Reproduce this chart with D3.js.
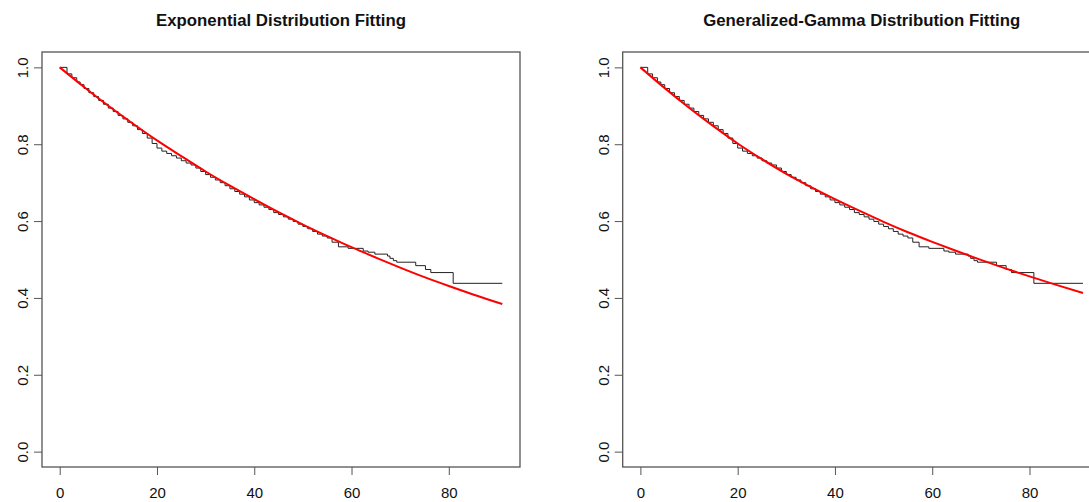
<!DOCTYPE html>
<html>
<head>
<meta charset="utf-8">
<script src="https://cdn.jsdelivr.net/npm/d3@7"></script>
<style>
  body { margin: 0; background: #fff; }
  svg { display: block; font-family: "Liberation Sans", Arial, sans-serif; }
</style>
</head>
<body>
<div id="chart"></div>
<script>
// Kaplan-Meier estimate (same in both panels)
const kmTime = [0, 1.5, 2.5, 3.5, 4.2, 5, 6, 7, 8, 9, 10, 11, 12, 13, 14, 15, 16, 17, 18, 19, 20,
  21, 22, 23, 24, 25, 26, 27, 28, 29, 30, 31, 32, 33, 34, 35, 36, 37, 38, 39, 40, 41, 42, 43, 44,
  45, 46, 47, 48, 49, 50, 51, 52, 53, 54, 55, 56, 57.3, 59.3, 62.4, 63.4, 64.8, 67.4, 67.9, 68.6, 69.3,
  73.2, 75.2, 76.3, 80.9, 91];
const kmSurv = [1.0, 0.983, 0.973, 0.962, 0.955, 0.945, 0.934, 0.924, 0.914, 0.904, 0.894, 0.885,
  0.875, 0.866, 0.857, 0.848, 0.838, 0.828, 0.816, 0.802, 0.790, 0.782, 0.776, 0.770, 0.764, 0.757,
  0.751, 0.746, 0.738, 0.729, 0.721, 0.714, 0.707, 0.700, 0.692, 0.684, 0.677, 0.670, 0.663, 0.655,
  0.648, 0.642, 0.636, 0.630, 0.622, 0.617, 0.611, 0.605, 0.599, 0.592, 0.586, 0.580, 0.573, 0.566,
  0.561, 0.556, 0.545, 0.533, 0.529, 0.522, 0.519, 0.514, 0.509, 0.503, 0.497, 0.493, 0.484, 0.474,
  0.466, 0.438, 0.438];

// fitted curves, read at regular times
const fitTime = [0, 5, 10, 15, 20, 25, 30, 35, 40, 45, 50, 55, 60, 65, 70, 75, 80, 85, 91];
const expSurv = [1.000, 0.949, 0.900, 0.854, 0.810, 0.769, 0.729, 0.692, 0.657, 0.623, 0.591,
  0.561, 0.532, 0.505, 0.479, 0.454, 0.431, 0.409, 0.384];
const ggSurv = [1.000, 0.946, 0.895, 0.847, 0.802, 0.761, 0.723, 0.689, 0.657, 0.627, 0.598,
  0.571, 0.546, 0.522, 0.499, 0.477, 0.456, 0.436, 0.413];

const titles = ["Exponential Distribution Fitting", "Generalized-Gamma Distribution Fitting"];
const xTicks = [0, 20, 40, 60, 80];
const yTicks = [0, 0.2, 0.4, 0.6, 0.8, 1.0];

const W = 1089, H = 502;
const svg = d3.select("#chart").append("svg").attr("width", W).attr("height", H);

const boxW = 478, boxTop = 52, boxBottom = 467;
const panelLeft = [42, 622.7];
const fits = [expSurv, ggSurv];

const pad = 0.04 / 1.08;

panelLeft.forEach(function (left, p) {
  const right = left + boxW;
  const x = d3.scaleLinear()
    .domain([0, 91])
    .range([left + boxW * pad, right - boxW * pad]);
  const y = d3.scaleLinear()
    .domain([0, 1])
    .range([boxBottom - (boxBottom - boxTop) * pad, boxTop + (boxBottom - boxTop) * pad]);

  const g = svg.append("g");

  // box
  g.append("rect")
    .attr("x", left).attr("y", boxTop)
    .attr("width", boxW).attr("height", boxBottom - boxTop)
    .attr("fill", "none").attr("stroke", "#555").attr("stroke-width", 1.3);

  // x axis
  const xa = g.append("g").attr("transform", "translate(0," + boxBottom + ")")
    .call(d3.axisBottom(x).tickValues(xTicks).tickSize(8).tickPadding(12).tickFormat(d3.format("d")));
  xa.select(".domain").remove();
  xa.selectAll("line").attr("stroke", "#555");
  xa.selectAll("text").attr("font-size", 15).attr("fill", "#111")
    .attr("font-family", "Liberation Sans, Arial, sans-serif");

  // y axis, rotated labels like base R
  const ya = g.append("g").attr("transform", "translate(" + left + ",0)")
    .call(d3.axisLeft(y).tickValues(yTicks).tickSize(8).tickFormat(d3.format(".1f")));
  ya.select(".domain").remove();
  ya.selectAll("line").attr("stroke", "#555");
  ya.selectAll("text")
    .attr("font-size", 15).attr("fill", "#111")
    .attr("font-family", "Liberation Sans, Arial, sans-serif")
    .attr("text-anchor", "middle")
    .attr("dy", null)
    .attr("x", null)
    .attr("transform", "translate(-14,0) rotate(-90)");

  // title
  g.append("text")
    .attr("x", left + boxW / 2).attr("y", 26)
    .attr("text-anchor", "middle")
    .attr("font-size", 16.8).attr("font-weight", "bold").attr("fill", "#111")
    .text(titles[p]);

  // KM step line
  const km = kmTime.map((t, i) => [t, kmSurv[i]]);
  g.append("path")
    .datum(km)
    .attr("fill", "none").attr("stroke", "#222").attr("stroke-width", 1)
    .attr("d", d3.line().x(d => x(d[0])).y(d => y(d[1])).curve(d3.curveStepAfter));

  // fitted curve
  const fit = fitTime.map((t, i) => [t, fits[p][i]]);
  g.append("path")
    .datum(fit)
    .attr("fill", "none").attr("stroke", "#ff0000").attr("stroke-width", 2)
    .attr("d", d3.line().x(d => x(d[0])).y(d => y(d[1])).curve(d3.curveMonotoneX));
});
</script>
</body>
</html>
